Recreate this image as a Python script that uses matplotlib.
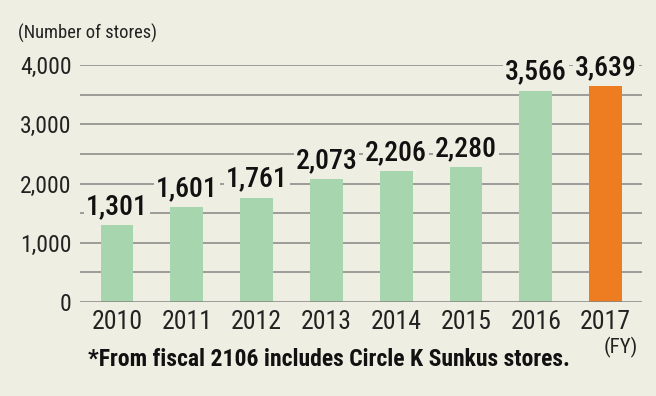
import matplotlib.pyplot as plt

# data
years = ["2010", "2011", "2012", "2013", "2014", "2015", "2016", "2017"]
stores = [1301, 1601, 1761, 2073, 2206, 2280, 3566, 3639]
y_ticks = [0, 1000, 2000, 3000, 4000]
y_tick_labels = ["0", "1,000", "2,000", "3,000", "4,000"]

BG = "#efeee2"
GREEN = "#a6d5ae"
ORANGE = "#ee7d22"
GRID = "#858583"

plt.rcParams["font.family"] = ["Roboto Condensed", "DejaVu Sans"]

fig = plt.figure(figsize=(6.56, 3.96), dpi=100, facecolor=BG)
ax = fig.add_axes([80 / 656, 1 - 302 / 396, (642 - 80) / 656, (302 - 65) / 396])
ax.set_facecolor(BG)

colors = [GREEN] * (len(years) - 1) + [ORANGE]
x = list(range(len(years)))
ax.bar(x, stores, width=0.47, color=colors, zorder=2)

# gridlines every 500 stores
for v in range(500, 4001, 500):
    ax.axhline(v, color=GRID, lw=1.1, zorder=1)
ax.axhline(0, color=GRID, lw=1.1, zorder=3)

# value labels, with a background box so they break the gridlines
for xi, v in zip(x, stores):
    ax.annotate(f"{v:,}", (xi, v), xytext=(0, 8), textcoords="offset points",
                ha="center", va="baseline", fontsize=20, fontweight=500,
                color="#111111", zorder=4,
                bbox=dict(facecolor=BG, edgecolor="none", pad=1.5))

ax.set_xlim(-0.53, 7.52)
ax.set_ylim(0, 4000)
ax.set_yticks(y_ticks)
ax.set_yticklabels(y_tick_labels, fontsize=17)
ax.set_xticks(x)
ax.set_xticklabels(years, fontsize=18.5)
ax.tick_params(axis="y", length=0, pad=6, colors="#222222")
ax.tick_params(axis="x", length=0, pad=6, colors="#222222")
for s in ax.spines.values():
    s.set_visible(False)

fig.text(18 / 656, 1 - 33 / 396, "(Number of stores)", fontsize=13.3, color="#222222",
         va="center", ha="left")
fig.text(621 / 656, 1 - 347 / 396, "(FY)", fontsize=15, color="#222222",
         va="center", ha="center")
fig.text(88 / 656, 1 - 360 / 396, "*From fiscal 2106 includes Circle K Sunkus stores.",
         fontsize=17, fontweight="bold", color="#111111", va="center", ha="left")

fig.savefig("out.png", dpi=100, facecolor=BG)
